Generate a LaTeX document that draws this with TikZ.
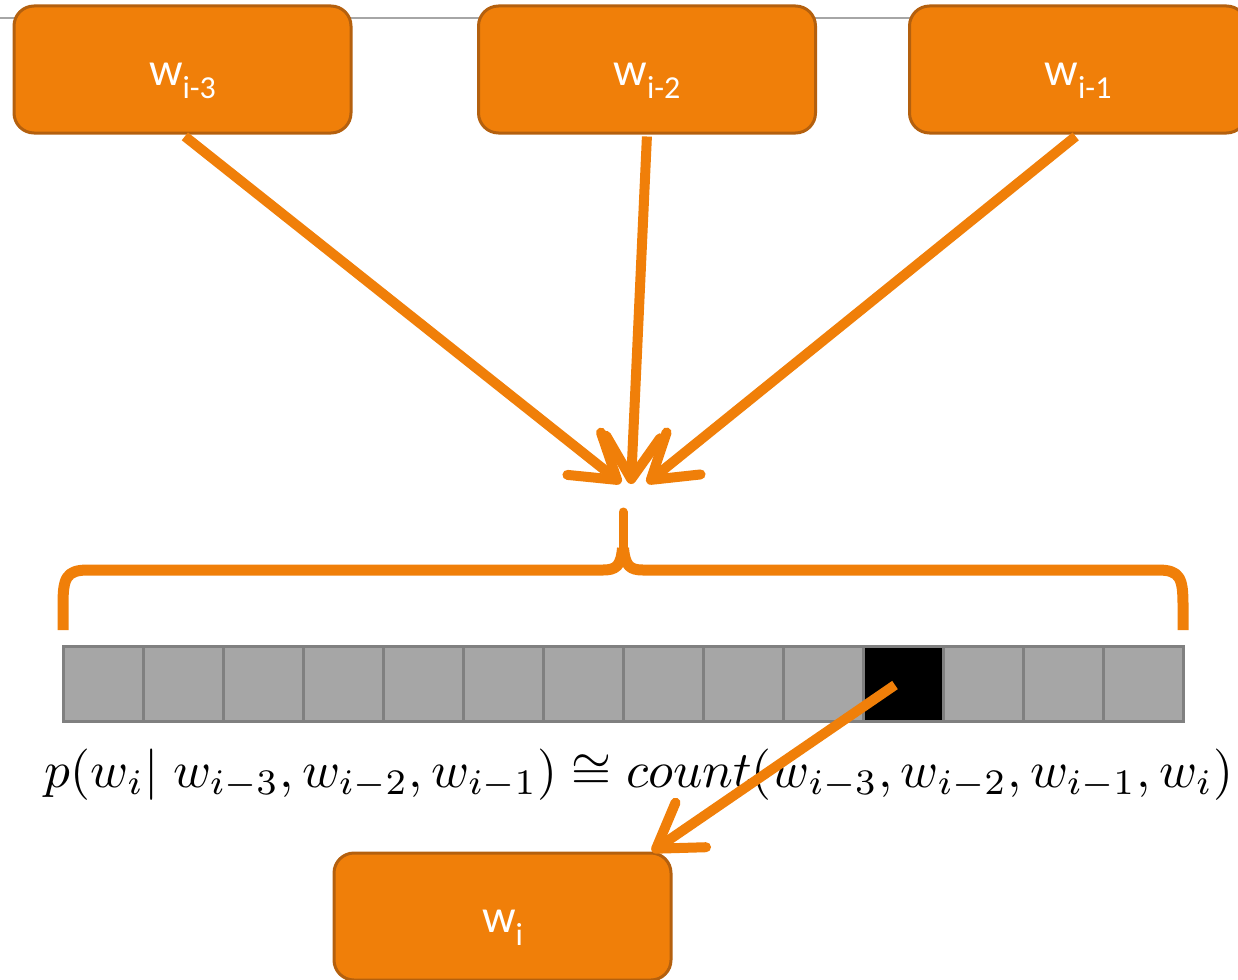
\documentclass[tikz,border=0pt]{standalone}
\usepackage{fontspec}
\setmainfont{Carlito}
\usepackage{graphicx}
\usetikzlibrary{arrows.meta,calc}

\definecolor{boxorange}{HTML}{F07F09}
\definecolor{boxedge}{HTML}{B4600E}
\definecolor{cellgray}{HTML}{A6A6A6}
\definecolor{celledge}{HTML}{808080}
\definecolor{rulegray}{HTML}{A6A6A6}

% word label: w with a lowered subscript
\newcommand{\wlabel}[1]{{\fontsize{47}{47}\selectfont w\raisebox{-13pt}{\fontsize{32}{32}\selectfont #1}}}

\begin{document}
\begin{tikzpicture}[x=1pt,y=-1pt,
  wordbox/.style={draw=boxedge, line width=3pt, fill=boxorange,
    rounded corners=20pt, minimum width=337pt, minimum height=127pt,
    text=white, inner sep=0pt, text height=32pt, text depth=0pt},
  cell/.style={draw=celledge, line width=3pt, minimum width=80pt,
    minimum height=75pt, inner sep=0pt},
  feed/.style={draw=boxorange, line width=10pt,
    -{Straight Barb[length=42pt,width=54pt,round]}},
  bracepart/.style={draw=boxorange, line width=11pt, line join=round}]

\useasboundingbox (0,0) rectangle (1238,979);

% thin rule along the top
\draw[rulegray, line width=1.5pt] (0,18) -- (1238,18);

% context words
\node[wordbox] (wm3) at (182.5,69.5) {\wlabel{i-3}};
\node[wordbox] (wm2) at (647,69.5) {\wlabel{i-2}};
\node[wordbox] (wm1) at (1078,69.5) {\wlabel{i-1}};

% predicted word
\node[wordbox] (wi) at (502.5,916.5) {\wlabel{i}};

% count table
\foreach \k in {0,...,13}{
  \ifnum\k=10 \def\cf{black}\else\def\cf{cellgray}\fi
  \node[cell, fill=\cf] (c\k) at (103+80*\k,683.5) {};
}

% probability estimate
\node[anchor=base, inner sep=0pt] (formula) at (639,787)
  {\resizebox{1188pt}{!}{$p(w_i|\;w_{i-3},w_{i-2},w_{i-1})\cong count(w_{i-3},w_{i-2},w_{i-1},w_i)$}};

% converging arrows
\coordinate (tipA) at (621,483);
\coordinate (tipB) at (631,484);
\coordinate (tipC) at (647,483);
\draw[feed, shorten <=3pt] (wm3.south) -- (tipA);
\draw[feed, shorten <=2pt] (wm2.south) -- (tipB);
\draw[feed, shorten <=3pt] (wm1.south) -- (tipC);

% brace over the table
\draw[bracepart] (63,630) -- (63,605) .. controls (63,578) and (66,570) .. (88,570)
  -- (603,570) .. controls (616,570) and (621,566) .. (622.5,548);
\draw[bracepart] (1183,630) -- (1183,605) .. controls (1183,578) and (1180,570) .. (1158,570)
  -- (643,570) .. controls (630,570) and (625,566) .. (623.5,548);
\draw[draw=boxorange, line width=9pt, line cap=round] (623,552) -- (623,512);

% lookup arrow from the selected cell to the predicted word
\coordinate (src) at ($(c10.center)+(-8,1.5)$);
\coordinate (dst) at ($(wi.north)+(149.5,0)$);
\draw[feed] (src) -- (dst);

\end{tikzpicture}
\end{document}
